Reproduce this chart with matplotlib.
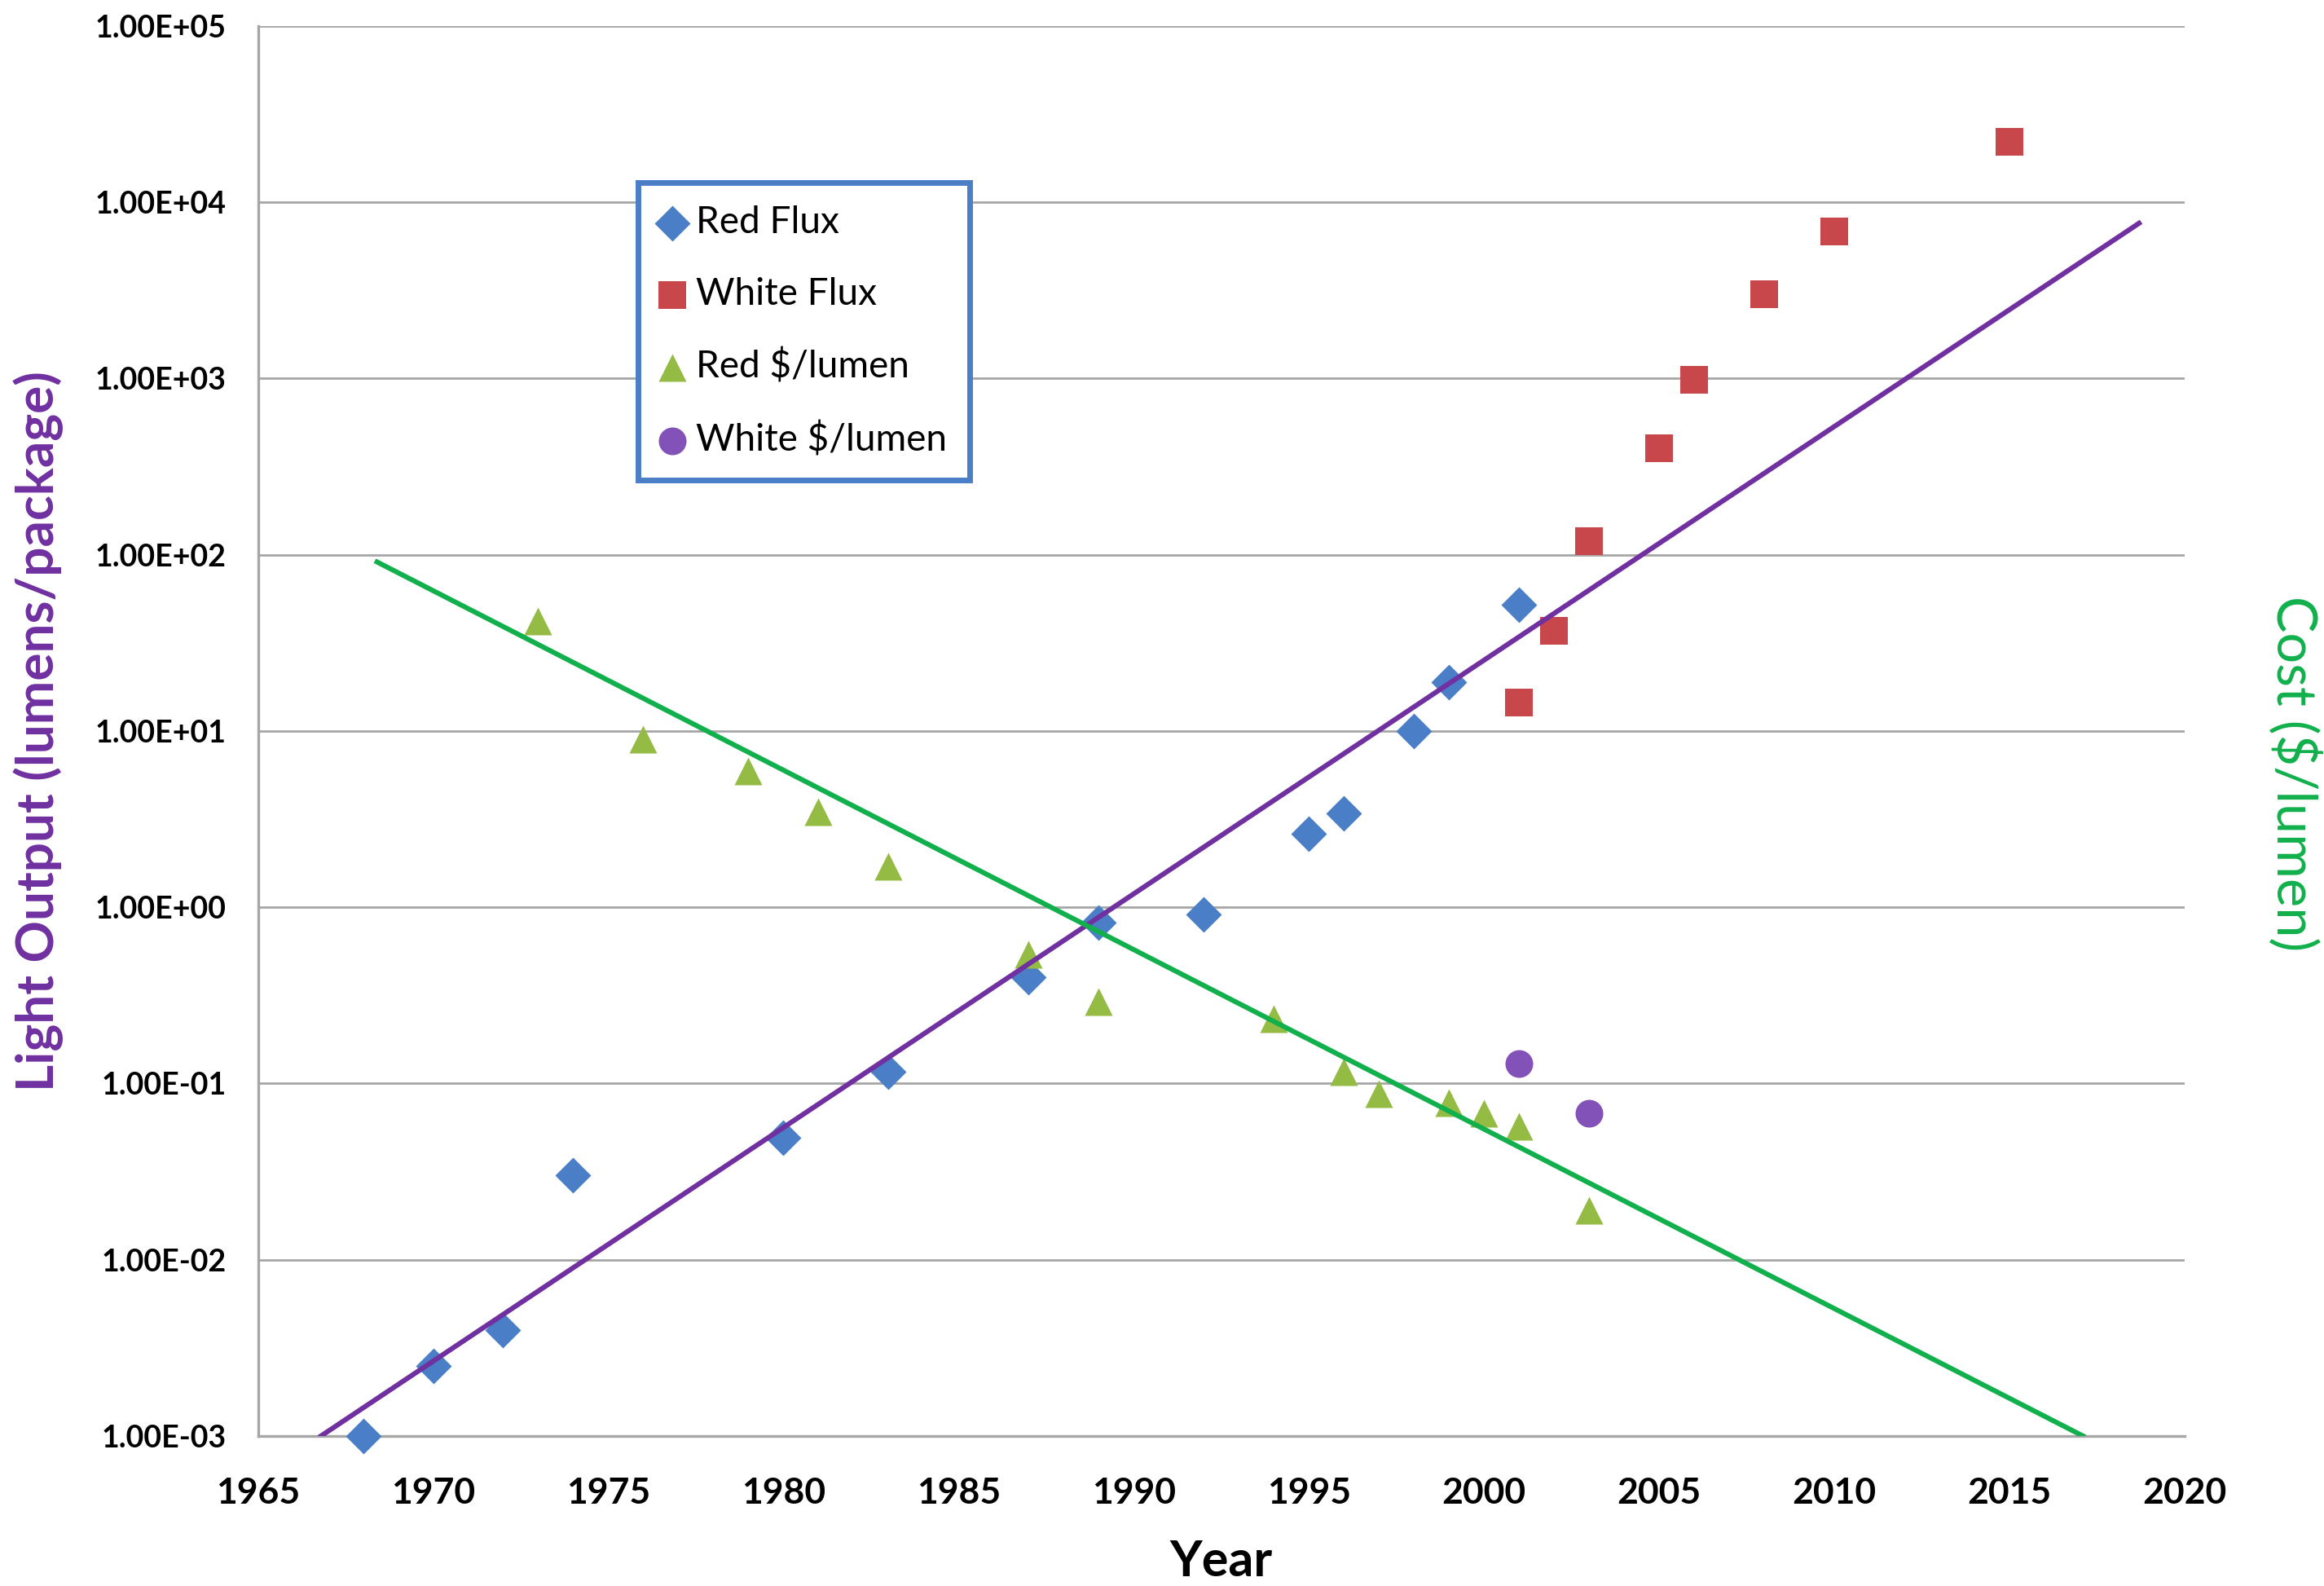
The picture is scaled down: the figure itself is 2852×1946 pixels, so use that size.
"""
plot.py - LED light output and cost per lumen over time (Haitz's law style chart).
Log scale, two scatter series per axis plus exponential trend lines.
"""

import matplotlib
matplotlib.use("Agg")
import matplotlib.pyplot as plt
from matplotlib.ticker import NullLocator

plt.rcParams["font.family"] = ["Lato", "DejaVu Sans"]

# ── Data ───────────────────────────────────────────────────────────────────────
red_flux_years = [1968, 1970, 1972, 1974, 1980, 1983, 1987, 1989, 1992, 1995, 1996, 1998, 1999, 2001]
red_flux_vals = [1.0e-3, 2.5e-3, 4.0e-3, 3.0e-2, 4.9e-2, 0.117, 0.40, 0.82, 0.91, 2.6, 3.4, 10.0, 18.9, 52.0]

white_flux_years = [2001, 2002, 2003, 2005, 2006, 2008, 2010, 2015]
white_flux_vals = [14.5, 37.0, 120.0, 400.0, 980.0, 3000.0, 6800.0, 22000.0]

red_cost_years = [1973, 1976, 1979, 1981, 1983, 1987, 1989, 1994, 1996, 1997, 1999, 2000, 2001, 2003]
red_cost_vals = [42.0, 9.0, 5.9, 3.5, 1.7, 0.54, 0.29, 0.234, 0.117, 0.087, 0.078, 0.068, 0.057, 0.019]

white_cost_years = [2001, 2003]
white_cost_vals = [0.13, 0.068]

# trend line end points
flux_trend_years = [1966.8, 2018.7]
flux_trend_vals = [1.0e-3, 7.6e3]
cost_trend_years = [1968.4, 2017.1]
cost_trend_vals = [91.0, 1.0e-3]

y_ticks = [1e-3, 1e-2, 1e-1, 1e0, 1e1, 1e2, 1e3, 1e4, 1e5]
y_tick_labels = ["1.00E-03", "1.00E-02", "1.00E-01", "1.00E+00", "1.00E+01",
                 "1.00E+02", "1.00E+03", "1.00E+04", "1.00E+05"]
x_ticks = list(range(1965, 2021, 5))

# ── Colours ────────────────────────────────────────────────────────────────────
BLUE = "#4A7EC6"
RED = "#C8474A"
LIGHT_GREEN = "#94BC45"
PURPLE = "#8352B8"
PURPLE_LINE = "#7030A0"
GREEN_LINE = "#11B04C"
GRID = "#A6A6A6"


def main():
    fig = plt.figure(figsize=(14.26, 9.73), dpi=200)
    ax = fig.add_axes([0.111, 0.0946, 0.829, 0.889])

    ax.set_yscale("log")
    ax.set_ylim(1e-3, 1e5)
    ax.set_xlim(1965, 2020)

    ax.scatter(red_flux_years, red_flux_vals, marker="D", s=125, color=BLUE,
               label="Red Flux", zorder=3, clip_on=False, linewidths=0)
    ax.scatter(white_flux_years, white_flux_vals, marker="s", s=150, color=RED,
               label="White Flux", zorder=3, clip_on=False, linewidths=0)
    ax.scatter(red_cost_years, red_cost_vals, marker="^", s=150, color=LIGHT_GREEN,
               label="Red $/lumen", zorder=3, clip_on=False, linewidths=0)
    ax.scatter(white_cost_years, white_cost_vals, marker="o", s=150, color=PURPLE,
               label="White $/lumen", zorder=3, clip_on=False, linewidths=0)

    ax.plot(flux_trend_years, flux_trend_vals, color=PURPLE_LINE, lw=2.2, zorder=4)
    ax.plot(cost_trend_years, cost_trend_vals, color=GREEN_LINE, lw=2.2, zorder=4)

    # horizontal grid only, one line per decade
    ax.set_yticks(y_ticks)
    ax.set_yticklabels(y_tick_labels, fontsize=13.5, fontweight="bold")
    ax.yaxis.set_minor_locator(NullLocator())
    ax.set_xticks(x_ticks)
    ax.set_xticklabels([str(y) for y in x_ticks], fontsize=16, fontweight="bold")
    ax.grid(axis="y", color=GRID, lw=1.0)
    ax.tick_params(axis="both", length=0)
    ax.tick_params(axis="y", pad=14)
    ax.tick_params(axis="x", pad=18)

    for side in ["top", "right"]:
        ax.spines[side].set_visible(False)
    for side in ["left", "bottom"]:
        ax.spines[side].set_color(GRID)
        ax.spines[side].set_linewidth(1.2)

    ax.set_xlabel("Year", fontsize=22, fontweight="bold", labelpad=13)
    ax.set_ylabel("Light Output (lumens/package)", fontsize=23, color=PURPLE_LINE,
                  fontweight="bold")
    ax.yaxis.set_label_coords(-0.101, 0.5)

    # right-hand label for the cost series (no ticks on that side)
    ax.text(1.057, 0.47, "Cost ($/lumen)", transform=ax.transAxes, rotation=270,
            ha="center", va="center", fontsize=24, color=GREEN_LINE)

    leg = ax.legend(loc="upper left", bbox_to_anchor=(0.2666, 0.8965),
                    bbox_transform=fig.transFigure, fontsize=16.5, frameon=True,
                    fancybox=False, handletextpad=0.35, labelspacing=1.0,
                    borderpad=0.6, handlelength=0.6, borderaxespad=0.5,
                    scatterpoints=1)
    leg.get_frame().set_edgecolor("#4A7EC6")
    leg.get_frame().set_linewidth(2.5)
    leg.get_frame().set_alpha(1.0)

    fig.savefig("out.png", dpi=200)
    plt.close(fig)


if __name__ == "__main__":
    main()
